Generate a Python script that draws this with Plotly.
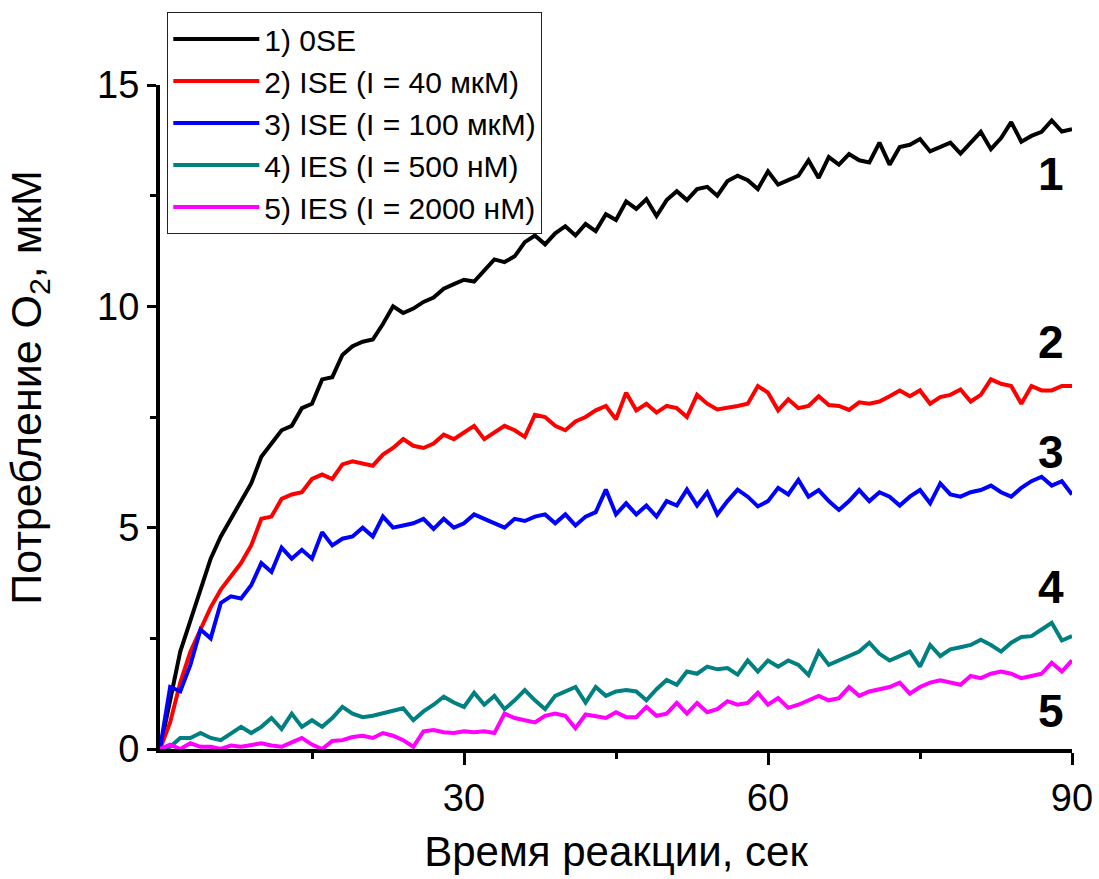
import plotly.graph_objects as go

# time, s (1 s steps)
t = list(range(0, 91))

# 1) 0SE
s1 = [0, 1.1, 2.2, 2.9, 3.6, 4.3, 4.8, 5.2, 5.6, 6.0, 6.6, 6.9, 7.2, 7.3, 7.7, 7.8, 8.35, 8.4, 8.9, 9.1,
      9.2, 9.25, 9.6, 10.0, 9.85, 9.95, 10.1, 10.2, 10.4, 10.5, 10.6, 10.56, 10.8, 11.06, 11.0, 11.13, 11.45, 11.6, 11.4, 11.65,
      11.81, 11.6, 11.86, 11.7, 12.08, 11.95, 12.37, 12.2, 12.42, 12.04, 12.4, 12.6, 12.4, 12.65, 12.7, 12.5, 12.83, 12.95, 12.85, 12.65,
      13.05, 12.75, 12.85, 12.95, 13.3, 12.9, 13.37, 13.2, 13.44, 13.3, 13.25, 13.7, 13.2, 13.6, 13.65, 13.78, 13.5, 13.6, 13.7, 13.45,
      13.7, 13.94, 13.55, 13.8, 14.16, 13.72, 13.85, 13.94, 14.2, 13.95, 14.0]

# 2) ISE (I = 40 мкМ)
s2 = [0, 0.6, 1.5, 2.2, 2.7, 3.2, 3.6, 3.9, 4.2, 4.6, 5.2, 5.25, 5.65, 5.75, 5.8, 6.1, 6.2, 6.1, 6.43, 6.5,
      6.45, 6.4, 6.65, 6.8, 7.0, 6.85, 6.8, 6.9, 7.1, 7.0, 7.15, 7.3, 7.0, 7.15, 7.3, 7.2, 7.05, 7.55, 7.5, 7.3,
      7.2, 7.4, 7.5, 7.65, 7.75, 7.45, 8.05, 7.65, 7.8, 7.6, 7.75, 7.7, 7.5, 8.0, 7.8, 7.67, 7.7, 7.75, 7.8, 8.2,
      8.05, 7.65, 7.9, 7.7, 7.75, 7.97, 7.77, 7.75, 7.66, 7.83, 7.8, 7.85, 7.97, 8.1, 7.97, 8.1, 7.8, 7.95, 8.0, 8.12,
      7.85, 8.0, 8.35, 8.25, 8.2, 7.8, 8.2, 8.1, 8.1, 8.2, 8.2]

# 3) ISE (I = 100 мкМ)
s3 = [0, 1.4, 1.3, 1.9, 2.7, 2.5, 3.3, 3.45, 3.4, 3.7, 4.2, 4.0, 4.55, 4.3, 4.5, 4.3, 4.9, 4.6, 4.75, 4.8,
      5.0, 4.8, 5.25, 5.0, 5.05, 5.1, 5.2, 4.97, 5.2, 5.0, 5.1, 5.3, 5.2, 5.1, 5.0, 5.2, 5.15, 5.25, 5.3, 5.1,
      5.3, 5.05, 5.25, 5.35, 5.86, 5.3, 5.55, 5.3, 5.5, 5.25, 5.6, 5.5, 5.86, 5.5, 5.8, 5.3, 5.6, 5.86, 5.7, 5.48,
      5.6, 5.9, 5.75, 6.08, 5.7, 5.85, 5.6, 5.4, 5.6, 5.85, 5.6, 5.8, 5.7, 5.5, 5.7, 5.85, 5.55, 6.0, 5.75, 5.7,
      5.8, 5.85, 5.95, 5.8, 5.7, 5.9, 6.05, 6.15, 5.95, 6.05, 5.75]

# 4) IES (I = 500 нМ)
s4 = [0, 0.05, 0.25, 0.25, 0.36, 0.25, 0.2, 0.35, 0.5, 0.36, 0.5, 0.7, 0.45, 0.8, 0.5, 0.65, 0.5, 0.7, 0.95, 0.8,
      0.72, 0.75, 0.8, 0.85, 0.92, 0.65, 0.85, 1.0, 1.18, 1.05, 0.95, 1.27, 1.0, 1.2, 0.9, 1.1, 1.33, 1.1, 0.9, 1.2,
      1.3, 1.4, 1.05, 1.4, 1.2, 1.3, 1.33, 1.3, 1.1, 1.35, 1.56, 1.45, 1.75, 1.7, 1.86, 1.8, 1.83, 1.68, 2.0, 1.75,
      2.0, 1.86, 2.0, 1.9, 1.67, 2.2, 1.9, 2.0, 2.1, 2.2, 2.4, 2.15, 2.0, 2.1, 2.2, 1.86, 2.35, 2.1, 2.25, 2.3,
      2.35, 2.47, 2.35, 2.2, 2.4, 2.53, 2.55, 2.7, 2.85, 2.45, 2.55]

# 5) IES (I = 2000 нМ)
s5 = [0, 0.1, 0.0, 0.13, 0.05, 0.05, 0.0, 0.08, 0.05, 0.1, 0.13, 0.08, 0.05, 0.15, 0.25, 0.1, 0.0, 0.18, 0.2, 0.27,
      0.3, 0.25, 0.36, 0.3, 0.2, 0.05, 0.4, 0.43, 0.38, 0.36, 0.4, 0.38, 0.4, 0.36, 0.8, 0.7, 0.65, 0.6, 0.75, 0.8,
      0.75, 0.47, 0.78, 0.75, 0.7, 0.83, 0.72, 0.72, 0.95, 0.75, 0.8, 1.04, 0.8, 1.04, 0.83, 0.9, 1.08, 1.0, 1.04, 1.27,
      1.0, 1.15, 0.93, 1.0, 1.1, 1.2, 1.1, 1.15, 1.4, 1.2, 1.3, 1.35, 1.4, 1.5, 1.25, 1.4, 1.5, 1.55, 1.5, 1.45,
      1.65, 1.6, 1.7, 1.75, 1.7, 1.6, 1.65, 1.7, 1.95, 1.75, 2.0]

names = ["1) 0SE", "2) ISE (I = 40 мкМ)", "3) ISE (I = 100 мкМ)", "4) IES (I = 500 нМ)", "5) IES (I = 2000 нМ)"]
colors = ["#000000", "#FF0000", "#0000FF", "#008080", "#FF00FF"]
series = [s1, s2, s3, s4, s5]

curve_labels = ["1", "2", "3", "4", "5"]
label_y = [13.0, 9.2, 6.7, 3.65, 0.85]
label_x = 87.9

x_ticks = [30, 60, 90]
x_minor = [15, 45, 75]
y_ticks = [0, 5, 10, 15]
y_minor = [2.5, 7.5, 12.5]

x_title = "Время реакции, сек"
y_title = "Потребление O<sub>2</sub>, мкМ"

FONT = "Arial, Liberation Sans, sans-serif"

fig = go.Figure()
for nm, c, s in zip(names, colors, series):
    fig.add_trace(go.Scatter(x=t, y=s, mode="lines", name=nm,
                             line=dict(color=c, width=4)))

for lab, ly in zip(curve_labels, label_y):
    fig.add_annotation(x=label_x, y=ly, text="<b>%s</b>" % lab, showarrow=False,
                       font=dict(family=FONT, size=46, color="black"),
                       xanchor="center", yanchor="middle")

# y-axis title (rotated), placed as in the reference
fig.add_annotation(xref="paper", yref="paper", x=-0.143, y=0.545, text=y_title,
                   textangle=-90, showarrow=False, xanchor="center", yanchor="middle",
                   font=dict(family=FONT, size=43, color="black"))

fig.update_layout(
    width=1099, height=879,
    margin=dict(l=160, r=27, t=85, b=130, autoexpand=False),
    paper_bgcolor="white", plot_bgcolor="white",
    font=dict(family=FONT, color="black"),
    showlegend=True,
    legend=dict(x=0.008, y=1.11, xanchor="left", yanchor="top",
                bgcolor="white", bordercolor="#222222", borderwidth=1,
                font=dict(family=FONT, size=30, color="black"),
                itemwidth=86, tracegroupgap=0),
    xaxis=dict(range=[0, 90], tickmode="array", tickvals=x_ticks,
               ticks="outside", ticklen=12, tickwidth=3, tickcolor="black",
               showline=True, linewidth=4, linecolor="black", mirror=False,
               showgrid=False, zeroline=False,
               tickfont=dict(family=FONT, size=38, color="black"),
               minor=dict(tickmode="array", tickvals=x_minor, ticks="outside",
                          ticklen=6, tickwidth=3, tickcolor="black", showgrid=False),
               title=dict(text=x_title, font=dict(family=FONT, size=42, color="black"),
                          standoff=20)),
    yaxis=dict(range=[0, 15], tickmode="array", tickvals=y_ticks,
               ticks="outside", ticklen=9, tickwidth=3, tickcolor="black",
               showline=True, linewidth=4, linecolor="black", mirror=False,
               showgrid=False, zeroline=False,
               tickfont=dict(family=FONT, size=38, color="black"),
               minor=dict(tickmode="array", tickvals=y_minor, ticks="outside",
                          ticklen=6, tickwidth=3, tickcolor="black", showgrid=False)),
)

fig.write_html("out.html")
